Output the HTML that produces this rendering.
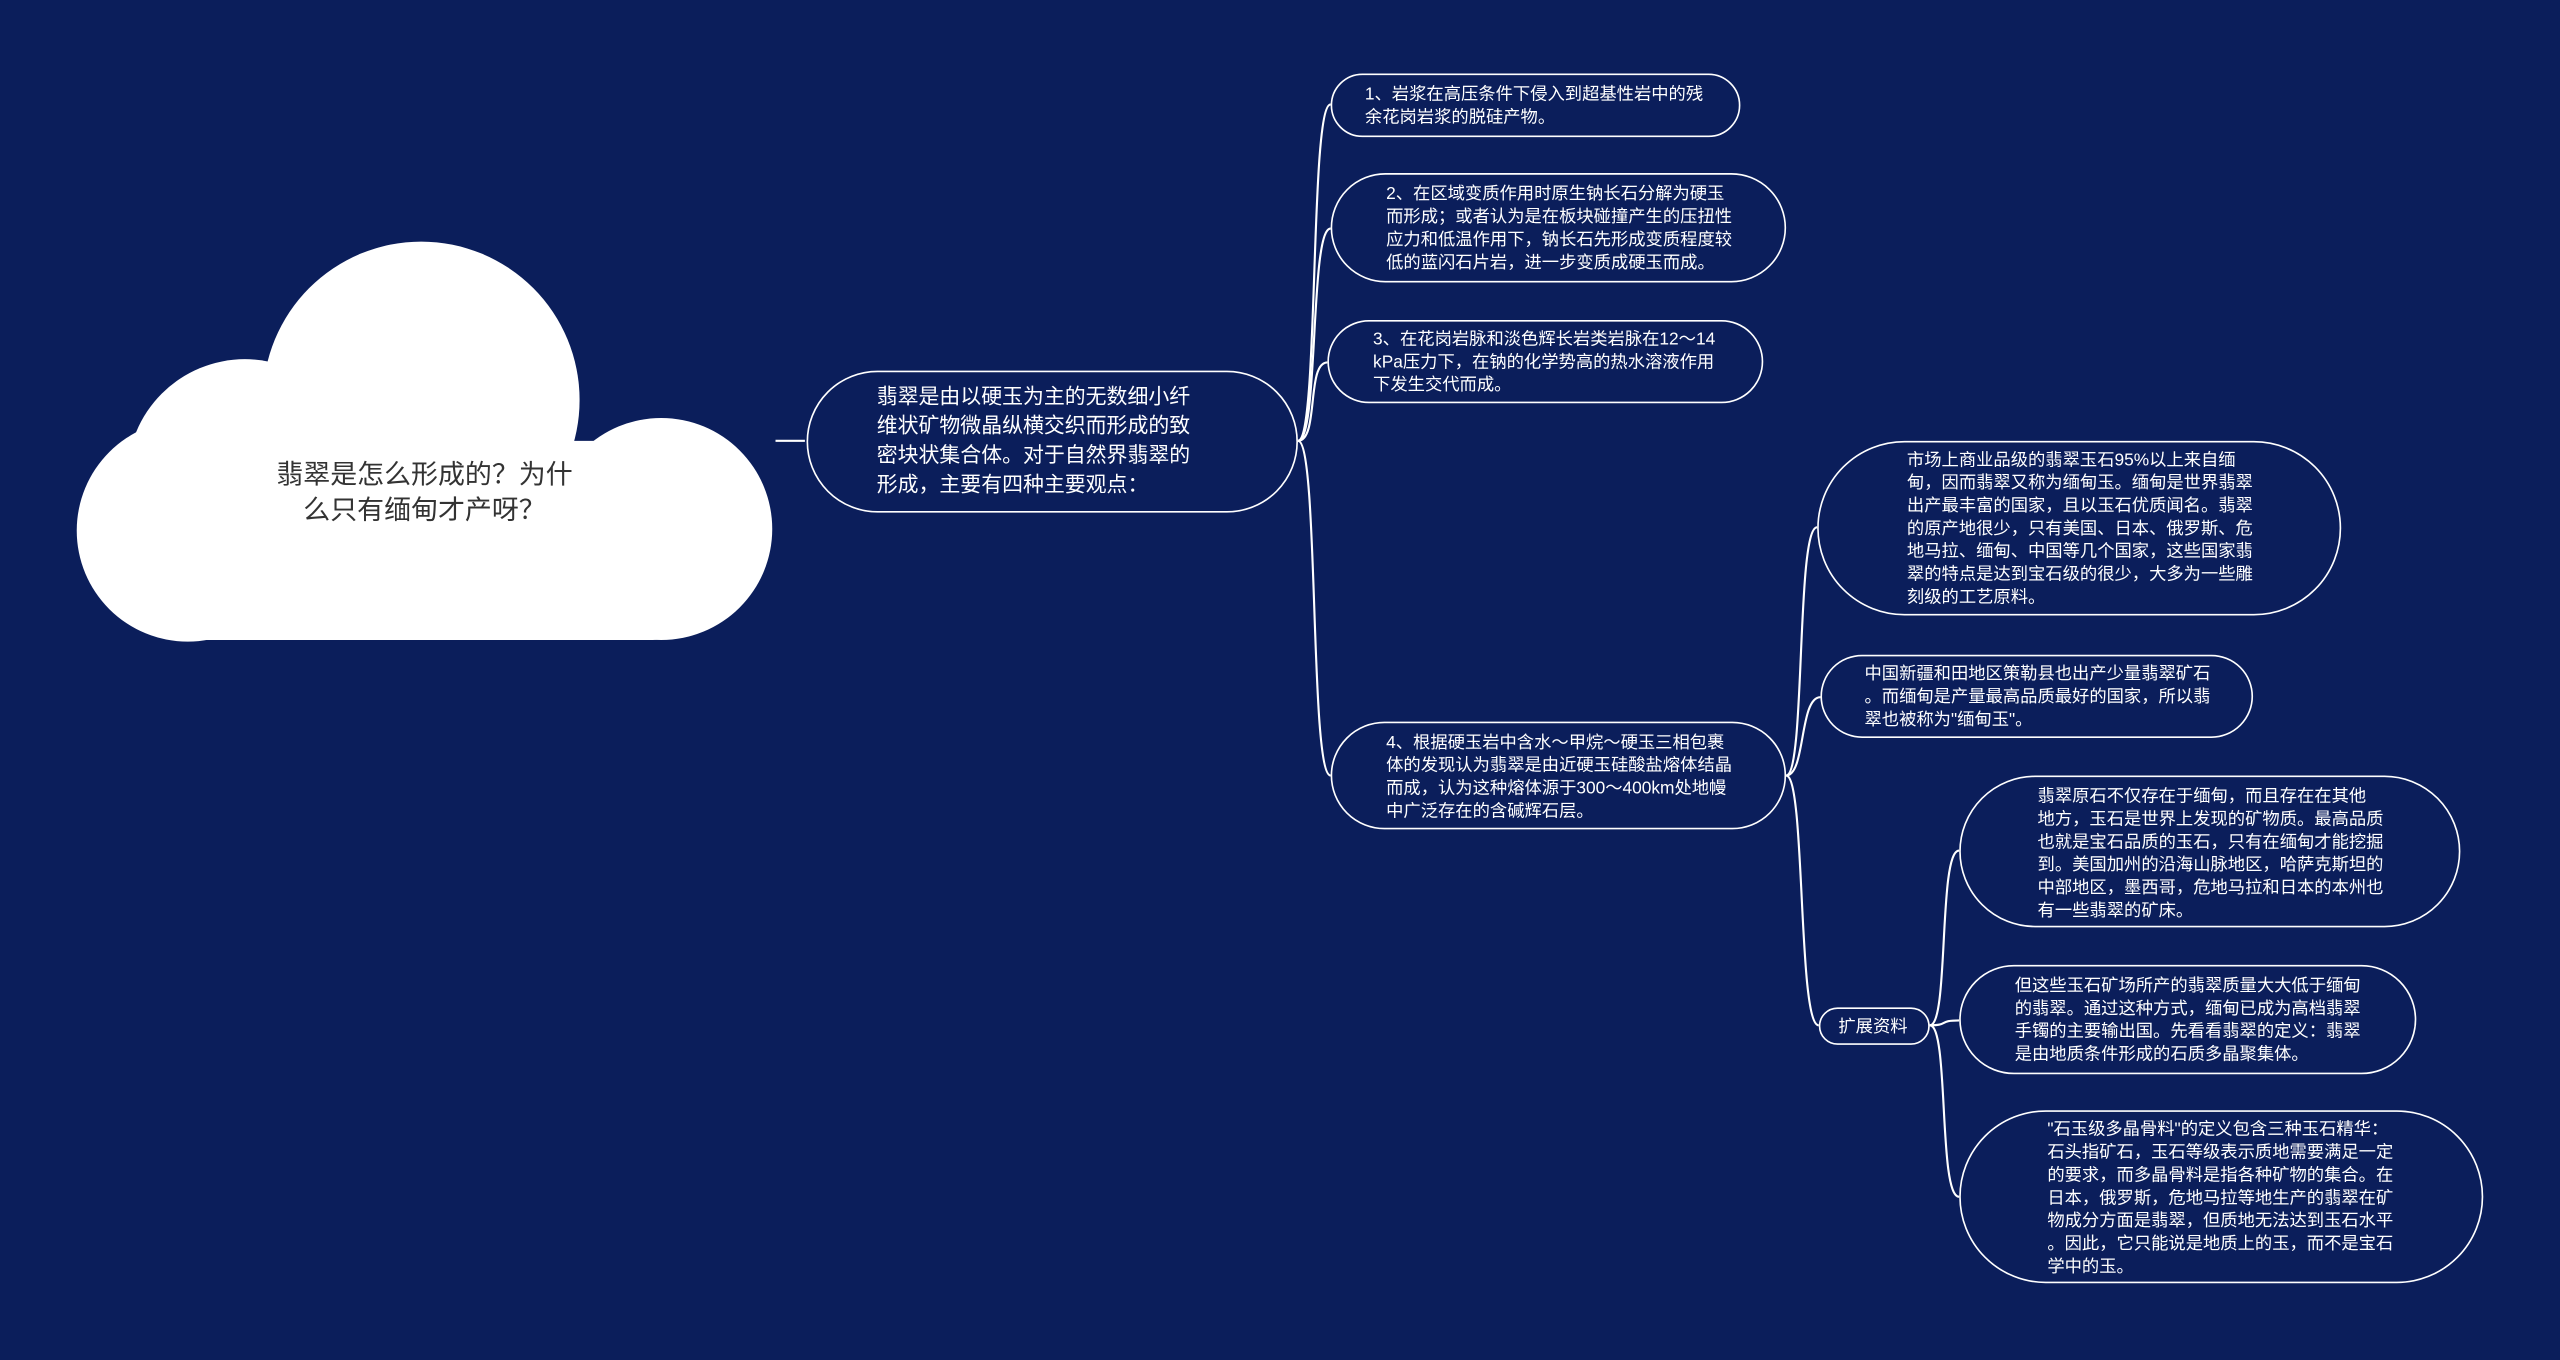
<!DOCTYPE html>
<html><head><meta charset="utf-8"><style>
html,body{margin:0;padding:0;background:#0b1e5b;width:2560px;height:1360px;overflow:hidden}
#s{position:absolute;left:0;top:0;width:1568px;height:833px;transform:scale(1.63265);transform-origin:0 0;font-family:"Liberation Sans","Noto Sans CJK SC",sans-serif}
.n{position:absolute;box-sizing:border-box;border:1.2px solid #fff;color:#fff;font-size:10.6px;line-height:14px;white-space:nowrap}
.t{position:absolute;color:#fff;white-space:nowrap}
svg{position:absolute;left:0;top:0}
</style></head><body><div id="s">
<svg width="1568" height="833" viewBox="0 0 1568 833">
<g fill="#fff">
<circle cx="258" cy="245" r="97"/>
<circle cx="150" cy="292" r="72"/>
<circle cx="115" cy="325" r="68"/>
<circle cx="405" cy="324" r="68"/>
<rect x="110" y="270" width="300" height="122" rx="10"/>
</g>
<g fill="none" stroke="#fff" stroke-width="1.3">
<path d="M475 270 H493"/>
<path d="M795 270 C808 270,802 64,815 64"/>
<path d="M795 270 C808 270,802 140,815 140"/>
<path d="M795 270 C808 270,800 222,813 222"/>
<path d="M795 270 C808 270,802 475,815 475"/>
<path d="M1094 475 C1106 475,1100 323,1113 323"/>
<path d="M1094 475 C1106 475,1102 427,1115 427"/>
<path d="M1094 475 C1106 475,1101 628,1114 628"/>
<path d="M1182 628 C1194 628,1187 521,1200 521"/>
<path d="M1182 628 C1194 628,1187 625,1200 625"/>
<path d="M1182 628 C1194 628,1187 733,1200 733"/>
</g>
</svg>
<div class="t" style="left:150px;top:280px;width:220px;text-align:center;color:#333;font-size:16.5px;line-height:22px">翡翠是怎么形成的？为什<br>么只有缅甸才产呀？</div>
<div class="n" style="left:494px;top:227px;width:301px;height:87px;border-radius:44px;font-size:12.8px;line-height:18px;padding:6px 0 0 42px">翡翠是由以硬玉为主的无数细小纤<br>维状矿物微晶纵横交织而形成的致<br>密块状集合体。对于自然界翡翠的<br>形成，主要有四种主要观点：</div>
<div class="n" style="left:815px;top:45px;width:251px;height:39px;border-radius:20px;padding:5px 0 0 20px">1、岩浆在高压条件下侵入到超基性岩中的残<br>余花岗岩浆的脱硅产物。</div>
<div class="n" style="left:815px;top:106px;width:279px;height:67px;border-radius:34px;padding:5px 0 0 33px">2、在区域变质作用时原生钠长石分解为硬玉<br>而形成；或者认为是在板块碰撞产生的压扭性<br>应力和低温作用下，钠长石先形成变质程度较<br>低的蓝闪石片岩，进一步变质成硬玉而成。</div>
<div class="n" style="left:813px;top:196px;width:267px;height:51px;border-radius:26px;padding:4px 0 0 27px">3、在花岗岩脉和淡色辉长岩类岩脉在12～14<br>kPa压力下，在钠的化学势高的热水溶液作用<br>下发生交代而成。</div>
<div class="n" style="left:815px;top:442px;width:279px;height:66px;border-radius:33px;padding:5px 0 0 33px">4、根据硬玉岩中含水～甲烷～硬玉三相包裹<br>体的发现认为翡翠是由近硬玉硅酸盐熔体结晶<br>而成，认为这种熔体源于300～400km处地幔<br>中广泛存在的含碱辉石层。</div>
<div class="n" style="left:1113px;top:270px;width:321px;height:107px;border-radius:54px;padding:4px 0 0 54px">市场上商业品级的翡翠玉石95%以上来自缅<br>甸，因而翡翠又称为缅甸玉。缅甸是世界翡翠<br>出产最丰富的国家，且以玉石优质闻名。翡翠<br>的原产地很少，只有美国、日本、俄罗斯、危<br>地马拉、缅甸、中国等几个国家，这些国家翡<br>翠的特点是达到宝石级的很少，大多为一些雕<br>刻级的工艺原料。</div>
<div class="n" style="left:1115px;top:401px;width:265px;height:51px;border-radius:26px;padding:4px 0 0 26px">中国新疆和田地区策勒县也出产少量翡翠矿石<br>。而缅甸是产量最高品质最好的国家，所以翡<br>翠也被称为"缅甸玉"。</div>
<div class="n" style="left:1114px;top:617px;width:68px;height:23px;border-radius:12px;padding:4px 0 0 11px">扩展资料</div>
<div class="n" style="left:1200px;top:475px;width:307px;height:93px;border-radius:47px;padding:5px 0 0 47px">翡翠原石不仅存在于缅甸，而且存在在其他<br>地方，玉石是世界上发现的矿物质。最高品质<br>也就是宝石品质的玉石，只有在缅甸才能挖掘<br>到。美国加州的沿海山脉地区，哈萨克斯坦的<br>中部地区，墨西哥，危地马拉和日本的本州也<br>有一些翡翠的矿床。</div>
<div class="n" style="left:1200px;top:591px;width:280px;height:67px;border-radius:34px;padding:5px 0 0 33px">但这些玉石矿场所产的翡翠质量大大低于缅甸<br>的翡翠。通过这种方式，缅甸已成为高档翡翠<br>手镯的主要输出国。先看看翡翠的定义：翡翠<br>是由地质条件形成的石质多晶聚集体。</div>
<div class="n" style="left:1200px;top:680px;width:321px;height:106px;border-radius:53px;padding:4px 0 0 53px">"石玉级多晶骨料"的定义包含三种玉石精华：<br>石头指矿石，玉石等级表示质地需要满足一定<br>的要求，而多晶骨料是指各种矿物的集合。在<br>日本，俄罗斯，危地马拉等地生产的翡翠在矿<br>物成分方面是翡翠，但质地无法达到玉石水平<br>。因此，它只能说是地质上的玉，而不是宝石<br>学中的玉。</div>
</div></body></html>
